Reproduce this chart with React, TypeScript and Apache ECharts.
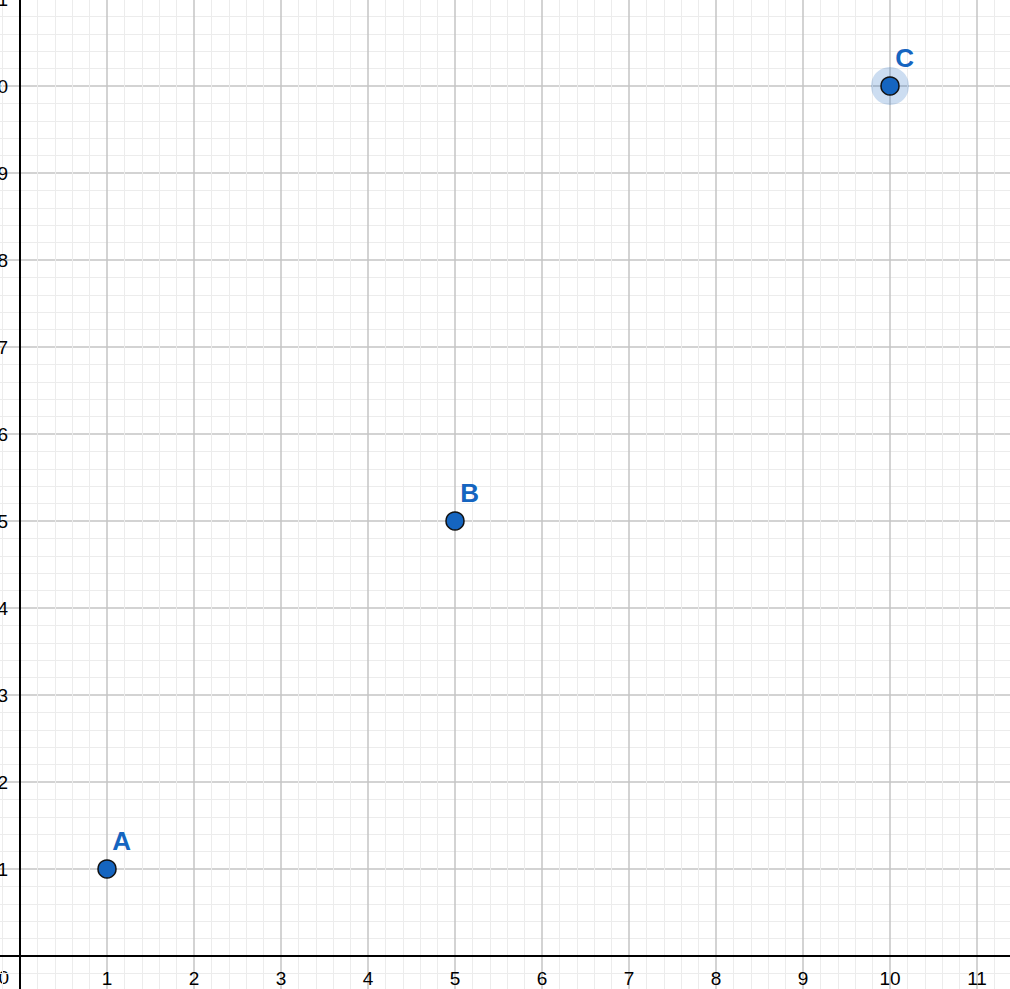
import React, { useEffect, useRef } from "react";
import * as echarts from "echarts";

const pointNames = ["A", "B", "C"];
const pointX = [1, 5, 10];
const pointY = [1, 5, 10];
const highlighted = ["C"];

const xMin = -1;
const xMax = 12;
const yMin = -1;
const yMax = 11;
const lastTick = 11;

const FONT = "Liberation Sans, Arial, sans-serif";

export default function App() {
  const ref = useRef<HTMLDivElement>(null);
  useEffect(() => {
    if (!ref.current) return;
    const chart = echarts.init(ref.current, undefined, { renderer: "svg" });
    const pts = pointNames.map((n, i) => ({ name: n, value: [pointX[i], pointY[i]] }));
    const halo = pts.filter((p) => highlighted.includes(p.name));
    const axisCommon = {
      type: "value" as const,
      interval: 1,
      axisLine: { show: true, onZero: true, lineStyle: { color: "#000", width: 2 } },
      axisTick: { show: false },
      minorTick: { show: false, splitNumber: 5 },
      splitLine: { show: true, lineStyle: { color: "#c4c4c4", width: 1.5 } },
      minorSplitLine: { show: true, lineStyle: { color: "#ececec", width: 1 } },
    };
    const labelCommon = {
      fontSize: 19,
      color: "#000",
      fontFamily: FONT,
      formatter: (v: number) => (v <= 0 || v > lastTick ? "" : String(v)),
    };
    chart.setOption({
      animation: false,
      backgroundColor: "#ffffff",
      grid: { left: 0, right: 0, top: 0, bottom: 0, containLabel: false, outerBoundsMode: "none" },
      xAxis: { ...axisCommon, min: xMin, max: xMax, axisLabel: { ...labelCommon, margin: -74 } },
      yAxis: { ...axisCommon, min: yMin, max: yMax, axisLabel: { ...labelCommon, margin: -75 } },
      graphic: [
        {
          type: "text",
          x: 76,
          y: 978,
          style: {
            text: "0",
            align: "right",
            verticalAlign: "middle",
            fontSize: 19,
            fill: "#000",
            fontFamily: FONT,
          },
        },
      ],
      series: [
        {
          type: "scatter",
          data: halo,
          symbolSize: 38,
          itemStyle: { color: "rgba(21,101,192,0.22)", opacity: 1 },
          silent: true,
          z: 3,
        },
        {
          type: "scatter",
          data: pts,
          symbolSize: 18,
          itemStyle: { color: "#1565c0", borderColor: "#111", borderWidth: 1.5, opacity: 1 },
          label: {
            show: true,
            formatter: "{b}",
            position: [15, -18],
            align: "left",
            verticalAlign: "middle",
            color: "#1565c0",
            fontSize: 26,
            fontWeight: "bold",
            fontFamily: FONT,
          },
          z: 4,
        },
      ],
    });
    return () => chart.dispose();
  }, []);
  return (
    <div style={{ position: "absolute", left: 0, top: 0, width: 1010, height: 989, overflow: "hidden", background: "#fff" }}>
      <div
        ref={ref}
        style={{ position: "absolute", left: -67, top: -1, width: 1131, height: 1044 }}
      />
    </div>
  );
}
